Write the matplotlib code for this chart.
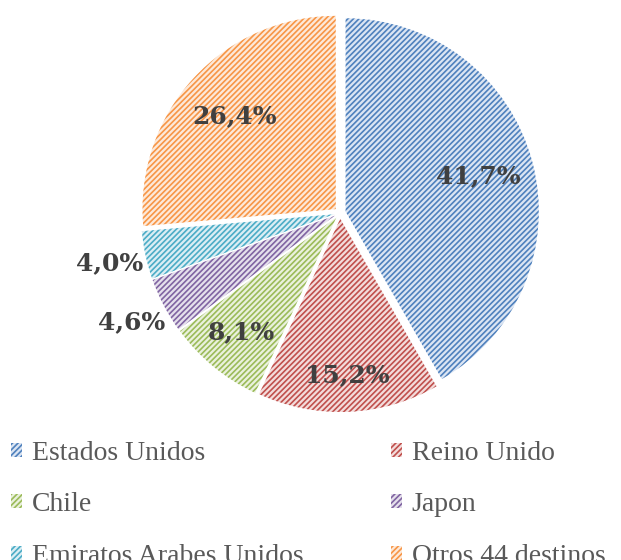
import matplotlib

matplotlib.use("Agg")
import matplotlib.pyplot as plt
import matplotlib.patches as mpatches
import numpy as np

labels = ["Estados Unidos", "Reino Unido", "Chile", "Japon", "Emiratos Arabes Unidos", "Otros 44 destinos"]
values = [41.7, 15.2, 8.1, 4.6, 4.0, 26.4]
pct_text = ["41,7%", "15,2%", "8,1%", "4,6%", "4,0%", "26,4%"]
fills = ["#dbe5f3", "#f3dcdb", "#eaf1dd", "#e5e0ec", "#dbeef4", "#fde9d9"]
hatches = ["#4f81bd", "#c0504d", "#9bbb59", "#8064a2", "#4bacc6", "#f79646"]
label_r = [0.74, 0.84, 0.80, 1.22, 1.22, 0.74]

plt.rcParams["hatch.linewidth"] = 1.2
fig = plt.figure(figsize=(6.21, 5.60), dpi=100)
size = 398
ax = fig.add_axes([(340 - size / 2) / 621, (560 - 213 - size / 2) / 560, size / 621, size / 560])

wedges, _ = ax.pie(
    values,
    startangle=90,
    counterclock=False,
    explode=[0.03] * len(values),
    colors=fills,
    radius=1.0,
    wedgeprops=dict(linewidth=0),
)
for w, hc in zip(wedges, hatches):
    w.set_hatch("//////")
    w.set_edgecolor(hc)
    w.set_linewidth(0)

for w, txt, r in zip(wedges, pct_text, label_r):
    ang = np.deg2rad((w.theta1 + w.theta2) / 2)
    ax.text(r * np.cos(ang), r * np.sin(ang), txt, ha="center", va="center",
            fontsize=18, fontweight="bold", family="DejaVu Serif", color="#404040")
ax.set_xlim(-1.03, 1.03)
ax.set_ylim(-1.03, 1.03)
ax.set_aspect("equal")

# legend fills row by row, so reorder for matplotlib's column-major layout
order = [0, 2, 4, 1, 3, 5]
handles = [mpatches.Patch(facecolor=fills[i], edgecolor=hatches[i], hatch="//////", linewidth=0) for i in order]
fig.legend(handles, [labels[i] for i in order], ncol=2, loc="upper left",
           bbox_to_anchor=(-14 / 621, 1 - 416 / 560),
           frameon=False, prop=dict(family="Liberation Serif", size=20),
           handlelength=0.4, handleheight=0.4, handletextpad=0.35,
           columnspacing=3.15, labelspacing=0.95, labelcolor="#595959")

fig.savefig("out.png", dpi=100)
